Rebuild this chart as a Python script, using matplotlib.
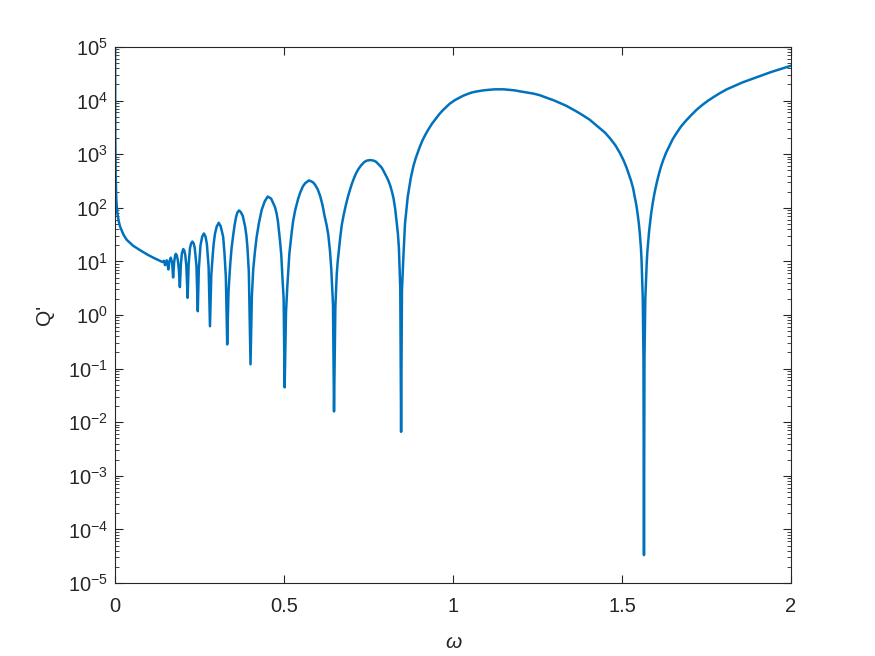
import numpy as np
import matplotlib
matplotlib.use("Agg")
import matplotlib.pyplot as plt
from matplotlib.ticker import LogLocator, NullFormatter

# Valores: pares (omega, log10 Q') por tramo
tramo_inicial = [
    (0.0003, 5.2), (0.001, 3.3), (0.002, 2.6), (0.004, 2.15), (0.007, 1.9),
    (0.011, 1.75), (0.015, 1.65), (0.025, 1.50), (0.035, 1.40), (0.054, 1.29),
    (0.074, 1.21), (0.095, 1.13), (0.113, 1.07), (0.130, 1.02), (0.140, 0.99),
    (0.145, 1.01),
]
lobulos_chicos = [
    (0.148, 0.93), (0.153, 1.02), (0.158, 0.85), (0.161, 1.00), (0.165, 1.07),
    (0.169, 0.98), (0.172, 0.70), (0.175, 0.98), (0.178, 1.11), (0.180, 1.14),
    (0.183, 1.11), (0.186, 1.02), (0.189, 0.85), (0.192, 0.52), (0.195, 0.95),
    (0.198, 1.15), (0.202, 1.23), (0.205, 1.20), (0.208, 1.12), (0.211, 0.92),
    (0.215, 0.32), (0.218, 0.95), (0.222, 1.25), (0.225, 1.33), (0.229, 1.37),
    (0.233, 1.33), (0.236, 1.25), (0.241, 0.92), (0.245, 0.07), (0.248, 0.85),
    (0.253, 1.30), (0.258, 1.46), (0.263, 1.52), (0.268, 1.46), (0.272, 1.32),
    (0.277, 0.90), (0.281, -0.21),
]
lobulos_medios = [
    (0.285, 0.75), (0.289, 1.10), (0.292, 1.33), (0.296, 1.52), (0.301, 1.65),
    (0.307, 1.72), (0.313, 1.65), (0.320, 1.46), (0.324, 1.15), (0.328, 0.71),
    (0.332, -0.55), (0.336, 0.45), (0.341, 0.95), (0.345, 1.25), (0.350, 1.50),
    (0.354, 1.68), (0.358, 1.82), (0.362, 1.91), (0.367, 1.95), (0.372, 1.92),
    (0.378, 1.85), (0.381, 1.76), (0.385, 1.65), (0.389, 1.47), (0.392, 1.25),
    (0.396, 0.80), (0.401, -0.92), (0.405, 0.35), (0.409, 0.85), (0.414, 1.18),
    (0.419, 1.45), (0.426, 1.72), (0.434, 1.96), (0.443, 2.12), (0.452, 2.21),
    (0.462, 2.17), (0.473, 2.02), (0.478, 1.90), (0.482, 1.75), (0.488, 1.40),
    (0.492, 1.12), (0.495, 0.75), (0.499, 0.30), (0.502, -1.35),
]
lobulos_grandes = [
    (0.506, 0.05), (0.510, 0.55), (0.516, 1.15), (0.523, 1.55), (0.527, 1.75),
    (0.533, 1.95), (0.537, 2.05), (0.542, 2.17), (0.549, 2.30), (0.556, 2.40),
    (0.563, 2.46), (0.574, 2.51), (0.585, 2.48), (0.592, 2.43), (0.600, 2.34),
    (0.607, 2.22), (0.614, 2.05), (0.620, 1.85), (0.626, 1.68), (0.631, 1.50),
    (0.636, 1.20), (0.640, 0.85), (0.645, 0.20), (0.648, -1.80), (0.652, 0.15),
    (0.656, 0.75), (0.659, 1.00), (0.663, 1.25), (0.667, 1.48), (0.671, 1.68),
    (0.677, 1.88), (0.683, 2.05), (0.689, 2.20), (0.695, 2.33), (0.701, 2.45),
    (0.707, 2.55), (0.713, 2.64), (0.720, 2.72), (0.728, 2.79), (0.737, 2.85),
    (0.745, 2.88), (0.755, 2.89), (0.765, 2.88), (0.772, 2.86), (0.780, 2.81),
    (0.789, 2.75), (0.796, 2.67), (0.803, 2.58), (0.808, 2.52), (0.814, 2.42),
    (0.819, 2.31), (0.824, 2.18), (0.829, 1.98), (0.833, 1.75), (0.837, 1.52),
    (0.840, 1.25), (0.844, 0.50), (0.8465, -2.18),
]
lobulo_mayor = [
    (0.849, 0.45), (0.853, 1.05), (0.858, 1.70), (0.866, 2.20), (0.875, 2.55),
    (0.883, 2.78), (0.890, 2.93), (0.895, 3.02), (0.902, 3.14), (0.910, 3.26),
    (0.918, 3.36), (0.927, 3.46), (0.938, 3.57), (0.950, 3.67), (0.960, 3.75),
    (0.970, 3.82), (0.980, 3.88), (0.990, 3.94), (1.006, 4.01), (1.018, 4.05),
    (1.030, 4.09), (1.042, 4.12), (1.055, 4.15), (1.070, 4.17), (1.090, 4.19),
    (1.105, 4.20), (1.124, 4.21), (1.137, 4.21), (1.150, 4.21), (1.165, 4.20),
    (1.183, 4.19), (1.200, 4.17), (1.220, 4.15), (1.238, 4.13), (1.257, 4.10),
    (1.278, 4.05), (1.300, 4.00), (1.318, 3.95), (1.336, 3.90), (1.353, 3.84),
    (1.370, 3.78), (1.388, 3.71), (1.405, 3.64), (1.420, 3.56), (1.435, 3.48),
    (1.450, 3.40), (1.464, 3.30), (1.480, 3.17), (1.494, 3.02), (1.505, 2.88),
    (1.514, 2.74), (1.520, 2.63), (1.527, 2.50), (1.533, 2.36), (1.538, 2.20),
    (1.543, 2.03), (1.547, 1.85), (1.550, 1.70), (1.553, 1.50), (1.556, 1.25),
    (1.558, 1.00), (1.5615, 0.30), (1.5635, -0.80), (1.565, -4.48),
]
tramo_final = [
    (1.5665, -0.80), (1.569, 0.30), (1.573, 0.95), (1.575, 1.18), (1.578, 1.40),
    (1.580, 1.55), (1.583, 1.72), (1.586, 1.88), (1.590, 2.05), (1.594, 2.20),
    (1.598, 2.33), (1.604, 2.50), (1.610, 2.65), (1.616, 2.78), (1.622, 2.89),
    (1.630, 3.02), (1.640, 3.15), (1.650, 3.28), (1.662, 3.40), (1.675, 3.52),
    (1.690, 3.63), (1.705, 3.73), (1.721, 3.83), (1.738, 3.92), (1.755, 4.00),
    (1.772, 4.07), (1.790, 4.14), (1.810, 4.21), (1.835, 4.28), (1.857, 4.34),
    (1.879, 4.39), (1.910, 4.46), (1.940, 4.53), (1.970, 4.59), (2.000, 4.65),
]
x_ticks = [0, 0.5, 1, 1.5, 2]
x_ticklabels = ["0", "0.5", "1", "1.5", "2"]

puntos = (tramo_inicial + lobulos_chicos + lobulos_medios + lobulos_grandes
          + lobulo_mayor + tramo_final)
omega = np.array([p[0] for p in puntos])
q = np.power(10.0, np.array([p[1] for p in puntos]))

plt.rcParams["font.family"] = ["Liberation Sans", "DejaVu Sans"]
plt.rcParams["mathtext.default"] = "regular"

gris = "#262626"

fig = plt.figure(figsize=(8.75, 6.56), dpi=100)
ax = fig.add_axes([0.1314, 0.1113, 0.7726, 0.8171])

ax.plot(omega, q, color="#0072BD", lw=1.8)

ax.set_yscale("log")
ax.set_xlim(0, 2)
ax.set_ylim(1e-5, 1e5)
ax.set_xticks(x_ticks)
ax.set_xticklabels(x_ticklabels)
ax.yaxis.set_major_locator(LogLocator(base=10, numticks=20))
ax.yaxis.set_minor_locator(LogLocator(base=10, subs=np.arange(2, 10), numticks=200))
ax.yaxis.set_minor_formatter(NullFormatter())

ax.tick_params(which="both", direction="in", top=True, right=True,
               colors=gris, labelsize=14.5)
ax.tick_params(which="major", length=6, width=0.8)
ax.tick_params(axis="x", which="major", pad=10)
ax.tick_params(axis="y", which="major", pad=5)
ax.tick_params(which="minor", length=3, width=0.6)
for s in ax.spines.values():
    s.set_color(gris)
    s.set_linewidth(0.8)

# Etiquetas
ax.set_xlabel("ω", fontsize=15, color=gris, fontstyle="italic", labelpad=12)
ax.set_ylabel("Q'", fontsize=15, color=gris, labelpad=10)

fig.savefig("out.png", dpi=100)
